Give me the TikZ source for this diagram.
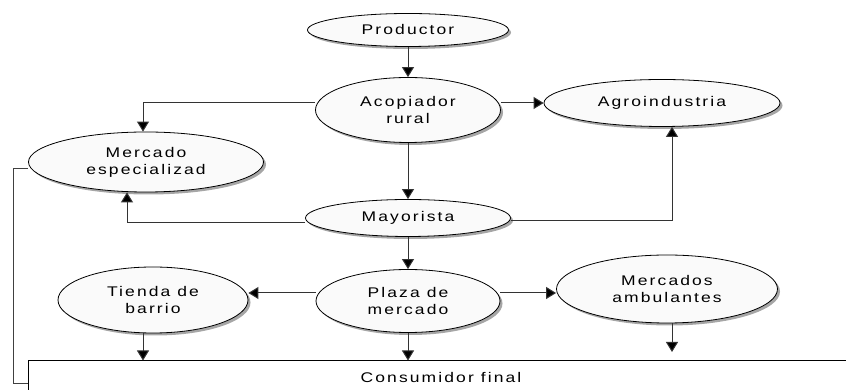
\documentclass[tikz,border=0pt]{standalone}
\usepackage{fontspec}
\setmainfont{Liberation Sans}[FakeStretch=1.25,LetterSpace=15]
\usepackage{tikz}
\usetikzlibrary{shapes.geometric, arrows.meta, positioning, shadows}

\tikzset{
    actor/.style={ellipse, draw=black, line width=0.8pt, fill=gray!4, inner sep=0pt,
        align=center, font=\fontsize{14}{17}\selectfont,
        drop shadow={shadow xshift=2.5pt, shadow yshift=-2.5pt, fill=gray!70, opacity=1}},
    flow/.style={draw=black!80, line width=1pt, -{Triangle[length=10pt,width=12pt,fill=black]}},
    link/.style={draw=black!75, line width=0.9pt}
}

\begin{document}
\begin{tikzpicture}[x=1pt, y=1pt]
\clip (0,0) rectangle (846,390);

% Cadena principal
\node[actor, minimum width=201, minimum height=33] (prod) at (408,360) {Productor};
\node[actor, minimum width=185, minimum height=65] (acop) at (408,280) {Acopiador\\rural};
\node[actor, minimum width=236, minimum height=47] (agro) at (662,287) {Agroindustria};
\node[actor, minimum width=235, minimum height=60] (mesp) at (146,228) {Mercado\\especializad};
\node[actor, minimum width=205, minimum height=37] (mayo) at (408,172) {Mayorista};
\node[actor, minimum width=184, minimum height=63] (plaza) at (408,89) {Plaza de\\mercado};
\node[actor, minimum width=190, minimum height=66] (tienda) at (153,90) {Tienda de\\barrio};
\node[actor, minimum width=221, minimum height=68] (mamb) at (667,101) {Mercados\\ambulantes};

% Consumidor final (caja inferior)
\node[draw=black, line width=1pt, minimum width=826, minimum height=32, inner sep=0pt,
      font=\fontsize{14}{17}\selectfont] (cons) at (441,13) {Consumidor final};
\coordinate (mend) at (672,38);

% Flechas
\draw[flow] (prod) -- (acop);
\draw[flow] ([yshift=7pt]acop.west) -| ([xshift=-3pt]mesp.north);
\draw[flow] (acop.east |- agro.west) -- (agro.west);
\draw[flow] (acop) -- (mayo);
\draw[flow] ([yshift=-5pt]mayo.west) -| ([xshift=-19pt]mesp.south);
\draw[flow] ([yshift=-3pt]mayo.east) -| ([xshift=10pt]agro.south);
\draw[flow] (mayo) -- (plaza);
\draw[flow] ([yshift=8pt]plaza.west) -- ([yshift=8pt]plaza.west -| tienda.east);
\draw[flow] ([yshift=8pt]plaza.east) -- ([yshift=8pt]plaza.east -| mamb.west);
\draw[flow] ([xshift=-10pt]tienda.south) -- ([xshift=-10pt]tienda.south |- cons.north);
\draw[flow] (plaza.south) -- (plaza.south |- cons.north);
\draw[flow] ([xshift=5pt]mamb.south) -- (mend);
\draw[link] ([yshift=-6pt]mesp.west) -- ++(-15,0) |- ([yshift=-6pt]cons.west);

\end{tikzpicture}
\end{document}
